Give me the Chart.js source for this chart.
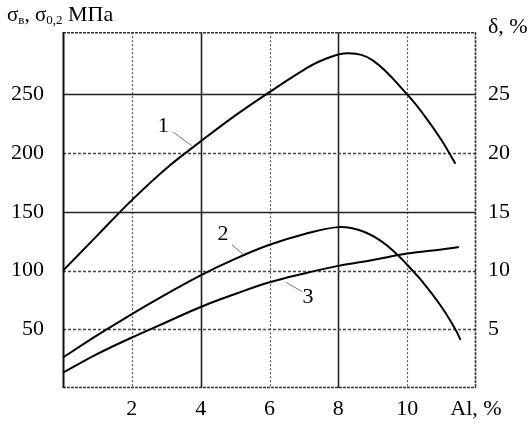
<!DOCTYPE html>
<html>
<head>
<meta charset="utf-8">
<script src="https://cdn.jsdelivr.net/npm/chart.js@4"></script>
<style>
html,body{margin:0;padding:0;background:#fff;}
</style>
</head>
<body>
<canvas id="myChart" width="530" height="424"></canvas>
<script>
// данные (Al, %)
const al1 = [0, 1, 2, 3, 4, 5, 6, 7, 7.6, 8.3, 9, 10, 10.5, 11, 11.4];
const sigmaB = [100, 130, 160, 187, 210, 232, 252, 271, 280, 285, 279, 250, 232, 211, 191];

const al2 = [0, 1, 2, 3, 4, 5, 6, 7, 8, 8.6, 9.2, 9.7, 10, 10.4, 11, 11.4, 11.55];
const delta = [2.6, 4.5, 6.3, 8.0, 9.6, 11.0, 12.2, 13.1, 13.7, 13.45, 12.6, 11.4, 10.5, 9.2, 6.9, 5.0, 4.1];

const al3 = [0, 1, 2, 3, 4, 5, 6, 7, 8, 9, 10, 11, 11.5];
const sigma02 = [13, 29, 43, 56, 69, 80, 90, 97.5, 104, 109, 114.5, 118, 120];

const xTicks = [2, 4, 6, 8, 10, 12];
const xTickLabels = ["2", "4", "6", "8", "10", "Al, %"];
const yTicks = [50, 100, 150, 200, 250];
const y2Ticks = [5, 10, 15, 20, 25];

// линии сетки: сплошные / пунктир
const xSolid = [4, 8];
const ySolid = [150, 250];

const serif = "'Liberation Serif', 'DejaVu Serif', serif";

function pts(xs, ys) {
  return xs.map((v, i) => ({ x: v, y: ys[i] }));
}

// сетка и рамка
const gridPlugin = {
  id: "gridPlugin",
  beforeDatasetsDraw(chart) {
    const ctx = chart.ctx;
    const a = chart.chartArea;
    const x = chart.scales.x;
    const y = chart.scales.y;
    ctx.save();
    xTicks.forEach(v => {
      if (v >= 12) return;
      const px = Math.round(x.getPixelForValue(v)) + 0.5;
      const solid = xSolid.includes(v);
      ctx.beginPath();
      ctx.setLineDash(solid ? [] : [2, 2]);
      ctx.lineWidth = solid ? 1.6 : 1.2;
      ctx.strokeStyle = solid ? "#222" : "#555";
      ctx.moveTo(px, a.top);
      ctx.lineTo(px, a.bottom);
      ctx.stroke();
    });
    yTicks.forEach(v => {
      const py = Math.round(y.getPixelForValue(v)) + 0.5;
      const solid = ySolid.includes(v);
      ctx.beginPath();
      ctx.setLineDash(solid ? [] : [3, 2]);
      ctx.lineWidth = solid ? 1.6 : 1.3;
      ctx.strokeStyle = solid ? "#222" : "#444";
      ctx.moveTo(a.left, py);
      ctx.lineTo(a.right, py);
      ctx.stroke();
    });
    // рамка
    ctx.setLineDash([3, 1]);
    ctx.lineWidth = 1.6;
    ctx.strokeStyle = "#333";
    ctx.beginPath();
    ctx.moveTo(a.left, a.top + 0.5);
    ctx.lineTo(a.right, a.top + 0.5);
    ctx.moveTo(a.right - 0.5, a.top);
    ctx.lineTo(a.right - 0.5, a.bottom);
    ctx.moveTo(a.left, a.bottom - 0.5);
    ctx.lineTo(a.right, a.bottom - 0.5);
    ctx.stroke();
    ctx.setLineDash([]);
    ctx.lineWidth = 2;
    ctx.strokeStyle = "#111";
    ctx.beginPath();
    ctx.moveTo(a.left + 0.5, a.top);
    ctx.lineTo(a.left + 0.5, a.bottom);
    ctx.stroke();
    ctx.restore();
  },
  afterDatasetsDraw(chart) {
    const ctx = chart.ctx;
    const x = chart.scales.x;
    const y = chart.scales.y;
    ctx.save();
    ctx.fillStyle = "#000";
    ctx.textBaseline = "alphabetic";

    // заголовок левой оси
    let cx = 7;
    const base = 21;
    function part(t, size, dy) {
      ctx.font = size + "px " + serif;
      ctx.fillText(t, cx, base + dy);
      cx += ctx.measureText(t).width;
    }
    part("σ", 21, 0);
    part("в", 13, 3);
    part(", ", 21, 0);
    part("σ", 21, 0);
    part("0,2", 13, 3);
    part(" МПа", 22, 0);

    // заголовок правой оси
    ctx.font = "22px " + serif;
    ctx.fillText("δ, %", 488, 33);

    // номера кривых с выносками (в единицах осей)
    const marks = [
      { t: "1", tx: 2.91, ty: 223, x1: 3.2, y1: 218, x2: 3.75, y2: 206 },
      { t: "2", tx: 4.65, ty: 131, x1: 4.91, y1: 122, x2: 5.23, y2: 114 },
      { t: "3", tx: 7.12, ty: 77, x1: 6.48, y1: 90, x2: 6.95, y2: 82 }
    ];
    ctx.textAlign = "center";
    ctx.textBaseline = "middle";
    ctx.font = "22px " + serif;
    ctx.strokeStyle = "#777";
    ctx.lineWidth = 1;
    marks.forEach(m => {
      ctx.fillText(m.t, x.getPixelForValue(m.tx), y.getPixelForValue(m.ty));
      ctx.beginPath();
      ctx.moveTo(x.getPixelForValue(m.x1), y.getPixelForValue(m.y1));
      ctx.lineTo(x.getPixelForValue(m.x2), y.getPixelForValue(m.y2));
      ctx.stroke();
    });
    ctx.restore();
  }
};

const lineStyle = {
  borderColor: "#000",
  borderWidth: 2,
  pointRadius: 0,
  fill: false,
  tension: 0.4
};

const ctx = document.getElementById("myChart").getContext("2d");
const chart = new Chart(ctx, {
  type: "line",
  data: {
    datasets: [
      Object.assign({ label: "σв", data: pts(al1, sigmaB), yAxisID: "y" }, lineStyle),
      Object.assign({ label: "δ", data: pts(al2, delta), yAxisID: "y2" }, lineStyle),
      Object.assign({ label: "σ0,2", data: pts(al3, sigma02), yAxisID: "y" }, lineStyle)
    ]
  },
  options: {
    responsive: false,
    animation: false,
    devicePixelRatio: 1,
    layout: { padding: { top: 32, left: 0, right: 0, bottom: 0 } },
    plugins: { legend: { display: false }, tooltip: { enabled: false } },
    scales: {
      x: {
        type: "linear",
        min: 0,
        max: 12,
        afterBuildTicks: s => { s.ticks = xTicks.map(v => ({ value: v })); },
        afterFit: s => { s.height = 36; },
        grid: { display: false, drawTicks: false },
        border: { display: false },
        ticks: {
          callback: (v, i) => xTickLabels[i],
          font: { family: serif, size: 22 },
          color: "#000",
          padding: 8,
          maxRotation: 0,
          autoSkip: false
        }
      },
      y: {
        position: "left",
        min: 0,
        max: 303,
        afterBuildTicks: s => { s.ticks = yTicks.map(v => ({ value: v })); },
        afterFit: s => { s.width = 63; },
        grid: { display: false, drawTicks: false },
        border: { display: false },
        ticks: { font: { family: serif, size: 22 }, color: "#000", padding: 19 }
      },
      y2: {
        position: "right",
        min: 0,
        max: 30.3,
        afterBuildTicks: s => { s.ticks = y2Ticks.map(v => ({ value: v })); },
        afterFit: s => { s.width = 54; },
        grid: { display: false, drawTicks: false },
        border: { display: false },
        ticks: { font: { family: serif, size: 22 }, color: "#000", padding: 12 }
      }
    }
  },
  plugins: [gridPlugin]
});
</script>
</body>
</html>
